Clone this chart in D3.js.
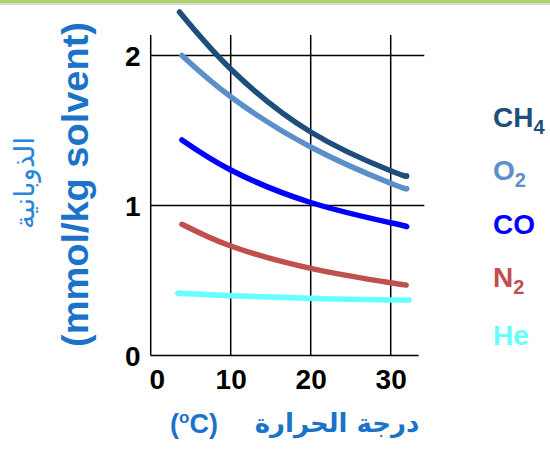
<!DOCTYPE html>
<html>
<head>
<meta charset="utf-8">
<script src="https://cdn.jsdelivr.net/npm/d3@7/dist/d3.min.js"></script>
<style>
  html, body { margin: 0; padding: 0; background: #fff; }
  svg { display: block; }
</style>
</head>
<body>
<svg id="chart" width="550" height="449"></svg>
<script>
// ---- data ----
const xTicks = [0, 10, 20, 30];
const yTicks = [0, 1, 2];
const gases = ["CH4", "O2", "CO", "N2", "He"];
const ch4 = [[3.6, 2.29], [10, 1.91], [20, 1.49], [30, 1.232], [32, 1.197]];
const o2  = [[3.9, 2.0], [10, 1.725], [20, 1.39], [30, 1.148], [32, 1.113]];
const co  = [[3.9, 1.437], [10, 1.237], [20, 1.02], [30, 0.885], [32, 0.859]];
const n2  = [[3.9, 0.875], [10, 0.73], [20, 0.581], [30, 0.485], [31.9, 0.47]];
const he  = [[3.4, 0.415], [10, 0.399], [20, 0.381], [30, 0.37], [32.3, 0.37]];
const seriesValues = [ch4, o2, co, n2, he];
const colors = ["#1f4e7d", "#5b8fca", "#0000ff", "#c0504d", "#66ffff"];

const svg = d3.select("#chart");

// top green border
svg.append("rect").attr("x", 0).attr("y", 3).attr("width", 550).attr("height", 2).attr("fill", "#d8d8d8");
svg.append("rect").attr("x", 0).attr("y", 0).attr("width", 550).attr("height", 3).attr("fill", "#a9d26c");

const x = d3.scaleLinear().domain([0, 30]).range([150.7, 390.7]);
const y = d3.scaleLinear().domain([0, 2]).range([355.5, 55.5]);
const yTop = 35;

// grid
const g = svg.append("g").attr("stroke", "#000").attr("stroke-width", 1.5).attr("fill", "none");
xTicks.forEach(t => {
  g.append("line").attr("x1", x(t)).attr("x2", x(t)).attr("y1", yTop).attr("y2", y(0));
});
g.append("line").attr("x1", x(0)).attr("x2", x(33.5)).attr("y1", y(0)).attr("y2", y(0));
[1, 2].forEach(v => {
  g.append("line").attr("x1", x(0)).attr("x2", x(34.2)).attr("y1", y(v)).attr("y2", y(v));
});

// axes labels via d3 axes
const axFont = "'Liberation Sans', Arial, sans-serif";
const xAxis = svg.append("g").attr("transform", `translate(0,${y(0)})`)
  .call(d3.axisBottom(x).tickValues(xTicks).tickSize(0).tickPadding(0).tickFormat(d3.format("d")));
xAxis.select(".domain").remove();
xAxis.selectAll("text")
  .attr("dy", null).attr("y", 33)
  .attr("dx", d => d === 0 ? 6 : 0)
  .attr("font-family", axFont).attr("font-weight", "bold").attr("font-size", 28).attr("fill", "#000");

const yAxis = svg.append("g").attr("transform", `translate(${x(0)},0)`)
  .call(d3.axisLeft(y).tickValues(yTicks).tickSize(0).tickPadding(10).tickFormat(d3.format("d")));
yAxis.select(".domain").remove();
yAxis.selectAll("text")
  .attr("dy", "0.36em")
  .attr("font-family", axFont).attr("font-weight", "bold").attr("font-size", 28).attr("fill", "#000");

// curves
const line = d3.line().x(d => x(d[0])).y(d => y(d[1])).curve(d3.curveNatural);
seriesValues.forEach((s, i) => {
  svg.append("path").datum(s).attr("d", line)
    .attr("fill", "none").attr("stroke", colors[i]).attr("stroke-width", 5.5)
    .attr("stroke-linecap", "round").attr("stroke-linejoin", "round");
});

// legend
const legendY = [127, 180, 234, 287, 345];
gases.forEach((name, i) => {
  const t = svg.append("text").attr("x", 493).attr("y", legendY[i])
    .attr("font-family", axFont).attr("font-weight", "bold").attr("font-size", 28)
    .attr("fill", colors[i]);
  const m = name.match(/^([A-Za-z]+)(\d*)$/);
  t.append("tspan").text(m[1]);
  if (m[2]) t.append("tspan").attr("font-size", 20).attr("dy", 7).text(m[2]);
});

// y axis titles
const titleBlue = "#1a73c9";
svg.append("text")
  .attr("transform", "translate(88,184.5) rotate(-90)")
  .attr("text-anchor", "middle")
  .attr("font-family", axFont).attr("font-weight", "bold").attr("font-size", 37)
  .attr("fill", titleBlue)
  .attr("textLength", 325).attr("lengthAdjust", "spacingAndGlyphs")
  .text("(mmol/kg solvent)");
svg.append("text")
  .attr("transform", "translate(34,183) rotate(-90)")
  .attr("text-anchor", "middle")
  .attr("font-family", "'DejaVu Sans', sans-serif").attr("font-size", 28)
  .attr("fill", "#2a86d8")
  .text("الذوبانية");

// x axis titles
const xt = svg.append("text").attr("x", 194).attr("y", 433)
  .attr("text-anchor", "middle")
  .attr("font-family", axFont).attr("font-weight", "bold").attr("font-size", 27)
  .attr("fill", titleBlue);
xt.append("tspan").text("(");
xt.append("tspan").attr("font-size", 17).attr("dy", -10).text("o");
xt.append("tspan").attr("dy", 10).text("C)");

svg.append("text").attr("x", 337).attr("y", 432)
  .attr("text-anchor", "middle")
  .attr("font-family", "'DejaVu Sans', sans-serif").attr("font-weight", "bold").attr("font-size", 26)
  .attr("fill", titleBlue)
  .text("درجة الحرارة");
</script>
</body>
</html>
